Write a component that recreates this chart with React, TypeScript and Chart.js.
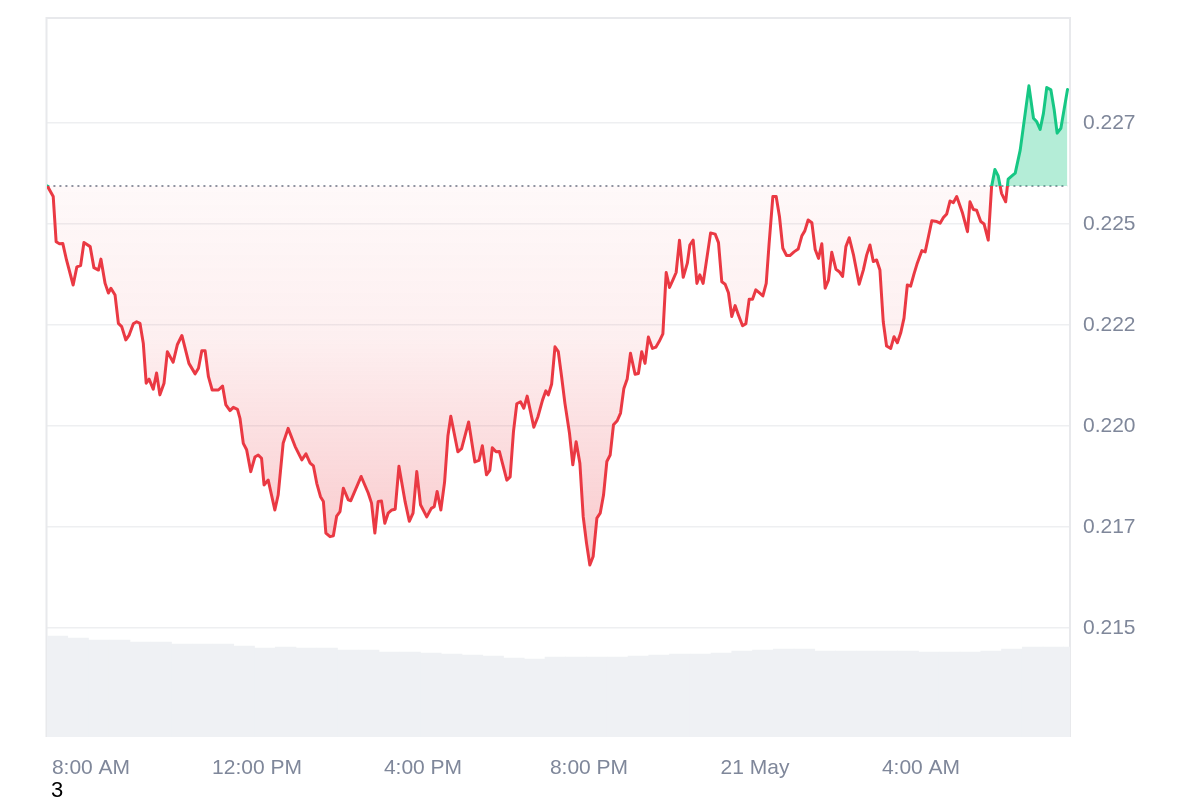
import React, { useEffect, useRef } from 'react';
import { Chart, registerables } from 'chart.js';

Chart.register(...registerables);

// time in hours from 00:00 on 20 May (values > 24 are on 21 May)
const priceTimes = [
  6.95, 7.09, 7.16, 7.24, 7.32, 7.41, 7.57, 7.66, 7.75, 7.83,
  7.98, 8.07, 8.18, 8.24, 8.34, 8.42, 8.48, 8.58, 8.66, 8.74,
  8.84, 8.92, 9.02, 9.10, 9.18, 9.26, 9.33, 9.40, 9.50, 9.58,
  9.66, 9.76, 9.84, 9.98, 10.08, 10.19, 10.36, 10.51, 10.59, 10.67,
  10.75, 10.83, 10.92, 11.07, 11.17, 11.25, 11.35, 11.43, 11.53, 11.59,
  11.67, 11.75, 11.85, 11.95, 12.03, 12.11, 12.17, 12.27, 12.43, 12.51,
  12.63, 12.75, 12.92, 13.08, 13.18, 13.28, 13.36, 13.44, 13.53, 13.60,
  13.66, 13.76, 13.84, 13.92, 14.00, 14.08, 14.20, 14.26, 14.51, 14.68,
  14.76, 14.84, 14.92, 15.00, 15.08, 15.16, 15.25, 15.33, 15.42, 15.57,
  15.67, 15.76, 15.85, 15.94, 16.09, 16.20, 16.27, 16.34, 16.43, 16.52,
  16.60, 16.67, 16.84, 16.93, 17.10, 17.25, 17.35, 17.43, 17.53, 17.61,
  17.67, 17.76, 17.84, 18.02, 18.10, 18.18, 18.26, 18.35, 18.43, 18.51,
  18.67, 18.77, 18.88, 18.96, 19.02, 19.10, 19.18, 19.26, 19.34, 19.42,
  19.53, 19.61, 19.69, 19.78, 19.86, 19.94, 20.02, 20.10, 20.19, 20.27,
  20.35, 20.43, 20.51, 20.59, 20.68, 20.76, 20.84, 20.92, 21.00, 21.11,
  21.19, 21.27, 21.35, 21.43, 21.53, 21.61, 21.69, 21.78, 21.86, 21.94,
  22.02, 22.10, 22.18, 22.27, 22.37, 22.43, 22.51, 22.60, 22.67, 22.75,
  22.93, 23.04, 23.12, 23.20, 23.28, 23.36, 23.44, 23.52, 23.60, 23.70,
  23.78, 23.86, 23.94, 24.02, 24.10, 24.19, 24.27, 24.34, 24.43, 24.51,
  24.59, 24.67, 24.76, 24.84, 24.94, 25.04, 25.13, 25.20, 25.28, 25.37,
  25.45, 25.53, 25.61, 25.69, 25.77, 25.85, 25.95, 26.03, 26.11, 26.19,
  26.27, 26.37, 26.51, 26.61, 26.69, 26.77, 26.85, 26.93, 27.01, 27.09,
  27.17, 27.27, 27.35, 27.43, 27.51, 27.59, 27.67, 27.75, 27.83, 27.91,
  28.02, 28.10, 28.18, 28.26, 28.38, 28.46, 28.54, 28.62, 28.70, 28.78,
  28.86, 29.00, 29.12, 29.18, 29.26, 29.34, 29.44, 29.52, 29.62, 29.70,
  29.78, 29.86, 29.94, 30.04, 30.10, 30.19, 30.27, 30.39, 30.60, 30.71,
  30.79, 30.87, 30.95, 31.03, 31.13, 31.21, 31.28, 31.37, 31.53,
];

const prices = [
  0.22594, 0.22568, 0.22456, 0.22451, 0.22452, 0.22411, 0.22349, 0.22394, 0.22397, 0.22454,
  0.22444, 0.22392, 0.22386, 0.22413, 0.22353, 0.22329, 0.22341, 0.22324, 0.22254, 0.22246,
  0.22213, 0.22225, 0.22253, 0.22258, 0.22254, 0.22205, 0.22106, 0.22116, 0.22091, 0.22131,
  0.22077, 0.22106, 0.22184, 0.22158, 0.22201, 0.22224, 0.22155, 0.22129, 0.22143, 0.22186,
  0.22186, 0.22122, 0.22089, 0.22089, 0.22099, 0.22052, 0.22038, 0.22046, 0.22041, 0.22019,
  0.21957, 0.21941, 0.21887, 0.21923, 0.21928, 0.21920, 0.21854, 0.21866, 0.21792, 0.21829,
  0.21957, 0.21994, 0.21949, 0.21916, 0.21931, 0.21908, 0.21901, 0.21858, 0.21825, 0.21813,
  0.21735, 0.21726, 0.21728, 0.21777, 0.21788, 0.21846, 0.21817, 0.21815, 0.21875, 0.21834,
  0.21809, 0.21735, 0.21813, 0.21814, 0.21759, 0.21784, 0.21792, 0.21794, 0.21900, 0.21812,
  0.21764, 0.21784, 0.21887, 0.21805, 0.21775, 0.21796, 0.21800, 0.21838, 0.21792, 0.21861,
  0.21975, 0.22024, 0.21936, 0.21944, 0.22010, 0.21911, 0.21915, 0.21951, 0.21879, 0.21890,
  0.21946, 0.21936, 0.21937, 0.21866, 0.21874, 0.21986, 0.22055, 0.22060, 0.22044, 0.22074,
  0.21997, 0.22023, 0.22064, 0.22087, 0.22077, 0.22104, 0.22196, 0.22184, 0.22122, 0.22056,
  0.21982, 0.21904, 0.21961, 0.21908, 0.21776, 0.21710, 0.21656, 0.21677, 0.21772, 0.21784,
  0.21829, 0.21912, 0.21928, 0.22003, 0.22013, 0.22032, 0.22093, 0.22116, 0.22180, 0.22128,
  0.22130, 0.22184, 0.22155, 0.22220, 0.22192, 0.22195, 0.22209, 0.22228, 0.22380, 0.22343,
  0.22361, 0.22380, 0.22460, 0.22368, 0.22403, 0.22448, 0.22460, 0.22353, 0.22374, 0.22353,
  0.22478, 0.22475, 0.22454, 0.22357, 0.22351, 0.22330, 0.22271, 0.22298, 0.22275, 0.22248,
  0.22253, 0.22314, 0.22314, 0.22337, 0.22330, 0.22322, 0.22353, 0.22452, 0.22568, 0.22568,
  0.22518, 0.22440, 0.22422, 0.22422, 0.22431, 0.22438, 0.22471, 0.22483, 0.22510, 0.22503,
  0.22437, 0.22415, 0.22451, 0.22341, 0.22361, 0.22430, 0.22388, 0.22382, 0.22370, 0.22444,
  0.22466, 0.22425, 0.22351, 0.22386, 0.22423, 0.22448, 0.22407, 0.22411, 0.22386, 0.22258,
  0.22198, 0.22192, 0.22221, 0.22206, 0.22230, 0.22267, 0.22349, 0.22346, 0.22376, 0.22403,
  0.22434, 0.22431, 0.22469, 0.22508, 0.22506, 0.22502, 0.22516, 0.22525, 0.22557, 0.22553,
  0.22568, 0.22527, 0.22481, 0.22555, 0.22536, 0.22534, 0.22506, 0.22500, 0.22460, 0.22592,
  0.22635, 0.22619, 0.22576, 0.22555, 0.22611, 0.22619, 0.22626, 0.22683, 0.22842, 0.22762,
  0.22753, 0.22734, 0.22774, 0.22838, 0.22832, 0.22782, 0.22725, 0.22737, 0.22833,
];

const baselinePrice = 0.22594;

const volumeTimes = [
  7.19, 7.69, 8.19, 8.69, 9.19, 9.69, 10.19, 10.69, 11.19, 11.69,
  12.19, 12.69, 13.19, 13.69, 14.19, 14.69, 15.19, 15.69, 16.19, 16.69,
  17.19, 17.69, 18.19, 18.69, 19.19, 19.69, 20.19, 20.69, 21.19, 21.69,
  22.19, 22.69, 23.19, 23.69, 24.19, 24.69, 25.19, 25.69, 26.19, 26.69,
  27.19, 27.69, 28.19, 28.69, 29.19, 29.69, 30.19, 30.69, 31.19, 31.69,
];

// volume (M)
const volumes = [
  101, 99, 97, 97, 95, 95, 93, 93, 93, 91,
  89, 90, 89, 89, 87, 87, 85, 85, 84, 83,
  82, 81, 79, 78, 80, 80, 80, 80, 81, 82,
  83, 83, 84, 86, 87, 88, 88, 86, 86, 86,
  86, 86, 85, 85, 85, 86, 88, 90, 90, 90,
];

const xTickValues = [8, 12, 16, 20, 24, 28];
const xTickLabels = ['8:00 AM', '12:00 PM', '4:00 PM', '8:00 PM', '21 May', '4:00 AM'];
const yTickValues = [0.2275, 0.225, 0.2225, 0.22, 0.2175, 0.215];
const yTickLabels = ['0.227', '0.225', '0.222', '0.220', '0.217', '0.215'];

const RED = '#ea3943';
const GREEN = '#16c784';
const FONT = "'Liberation Sans', Arial, Helvetica, sans-serif";
const TICK_COLOR = '#7f879a';

export default function App() {
  const ref = useRef<HTMLCanvasElement | null>(null);

  useEffect(() => {
    document.documentElement.style.overflow = 'hidden';
    document.body.style.overflow = 'hidden';
    const canvas = ref.current;
    if (!canvas) return;

    const pricePoints = priceTimes.map((t, i) => ({ x: t, y: prices[i] }));
    const volumePoints = volumeTimes.map((t, i) => ({ x: t, y: volumes[i] }));
    const basePoints = [
      { x: priceTimes[0], y: baselinePrice },
      { x: priceTimes[priceTimes.length - 1], y: baselinePrice },
    ];
    const minPrice = Math.min(...prices);

    const frame = {
      id: 'frame',
      beforeDatasetsDraw(chart: any) {
        const { ctx, chartArea } = chart;
        const { left, right, top, bottom } = chartArea;
        ctx.save();
        ctx.strokeStyle = '#e8e9ec';
        ctx.lineWidth = 2;
        ctx.beginPath();
        ctx.moveTo(left - 0.5, bottom);
        ctx.lineTo(left - 0.5, top);
        ctx.lineTo(right, top);
        ctx.lineTo(right, bottom);
        ctx.stroke();
        ctx.restore();
      },
    };

    const lineColor = (c: any) => {
      const chart = c.chart;
      const area = chart.chartArea;
      if (!area || !chart.scales.y) return RED;
      const yb = chart.scales.y.getPixelForValue(baselinePrice);
      const g = chart.ctx.createLinearGradient(0, area.top, 0, area.bottom);
      const s = Math.min(1, Math.max(0, (yb - area.top) / (area.bottom - area.top)));
      g.addColorStop(0, GREEN);
      g.addColorStop(s, GREEN);
      g.addColorStop(s, RED);
      g.addColorStop(1, RED);
      return g;
    };

    const fillOpt = (c: any) => {
      const chart = c.chart;
      const area = chart.chartArea;
      let below: any = 'rgba(234,57,67,0.12)';
      if (area && chart.scales.y) {
        const yb = chart.scales.y.getPixelForValue(baselinePrice);
        const ym = chart.scales.y.getPixelForValue(minPrice);
        const g = chart.ctx.createLinearGradient(0, yb, 0, ym);
        g.addColorStop(0, 'rgba(234,57,67,0.03)');
        g.addColorStop(0.4, 'rgba(234,57,67,0.08)');
        g.addColorStop(1, 'rgba(234,57,67,0.28)');
        below = g;
      }
      return { target: { value: baselinePrice }, above: 'rgba(22,199,132,0.32)', below };
    };

    const chart = new Chart(canvas, {
      type: 'line',
      data: {
        datasets: [
          {
            type: 'line',
            label: 'Price',
            data: pricePoints,
            borderColor: lineColor as any,
            borderWidth: 3,
            borderJoinStyle: 'round',
            borderCapStyle: 'round',
            pointRadius: 0,
            tension: 0,
            fill: fillOpt as any,
            yAxisID: 'y',
            order: 0,
          } as any,
          {
            type: 'line',
            label: 'Baseline',
            data: basePoints,
            borderColor: '#8e94a1',
            borderWidth: 2,
            borderDash: [2, 4],
            borderCapStyle: 'butt',
            pointRadius: 0,
            fill: false,
            yAxisID: 'y',
            order: 1,
          } as any,
          {
            type: 'bar',
            label: 'Volume',
            data: volumePoints,
            backgroundColor: '#eff1f4',
            borderWidth: 0,
            barPercentage: 1,
            categoryPercentage: 1,
            yAxisID: 'yVol',
            order: 3,
          } as any,
        ],
      },
      options: {
        animation: false,
        responsive: false,
        maintainAspectRatio: false,
        layout: { padding: { left: 39, top: 10, right: 0, bottom: 0 } },
        plugins: {
          legend: { display: false },
          tooltip: { enabled: false },
        },
        scales: {
          x: {
            type: 'linear',
            min: 6.94,
            max: 31.59,
            offset: false,
            grid: { display: false, drawTicks: false },
            border: { display: false },
            afterBuildTicks: (s: any) => {
              s.ticks = xTickValues.map((v) => ({ value: v }));
            },
            afterFit: (s: any) => {
              s.height = 46;
              s.paddingLeft = 0;
              s.paddingRight = 0;
            },
            ticks: {
              autoSkip: false,
              maxRotation: 0,
              minRotation: 0,
              padding: 19,
              color: TICK_COLOR,
              font: { family: FONT, size: 21 },
              callback: (v: any) => {
                const i = xTickValues.indexOf(Number(v));
                return i >= 0 ? xTickLabels[i] : '';
              },
            },
          },
          y: {
            type: 'linear',
            position: 'right',
            min: 0.2123,
            max: 0.2301,
            grid: { color: '#eeeff1', lineWidth: 1.5, drawTicks: false },
            border: { display: false },
            afterBuildTicks: (s: any) => {
              s.ticks = yTickValues.map((v) => ({ value: v }));
            },
            afterFit: (s: any) => {
              s.width = 122;
              s.paddingTop = 0;
              s.paddingBottom = 0;
            },
            ticks: {
              padding: 13,
              color: TICK_COLOR,
              font: { family: FONT, size: 21 },
              callback: (_v: any, i: number) => yTickLabels[i] ?? '',
            },
          },
          yVol: {
            type: 'linear',
            display: false,
            min: 0,
            max: 719,
          },
        },
      },
      plugins: [frame],
    });

    return () => {
      chart.destroy();
    };
  }, []);

  return (
    <div style={{ position: 'relative', width: 1184, height: 792 }}>
      <canvas ref={ref} width={1184} height={775} style={{ display: 'block', width: 1184, height: 775 }} />
      <div
        style={{
          position: 'absolute',
          left: 43,
          top: 771,
          fontFamily: FONT,
          fontSize: 22,
          lineHeight: '22px',
          color: '#000',
        }}
      >
        3
      </div>
    </div>
  );
}
